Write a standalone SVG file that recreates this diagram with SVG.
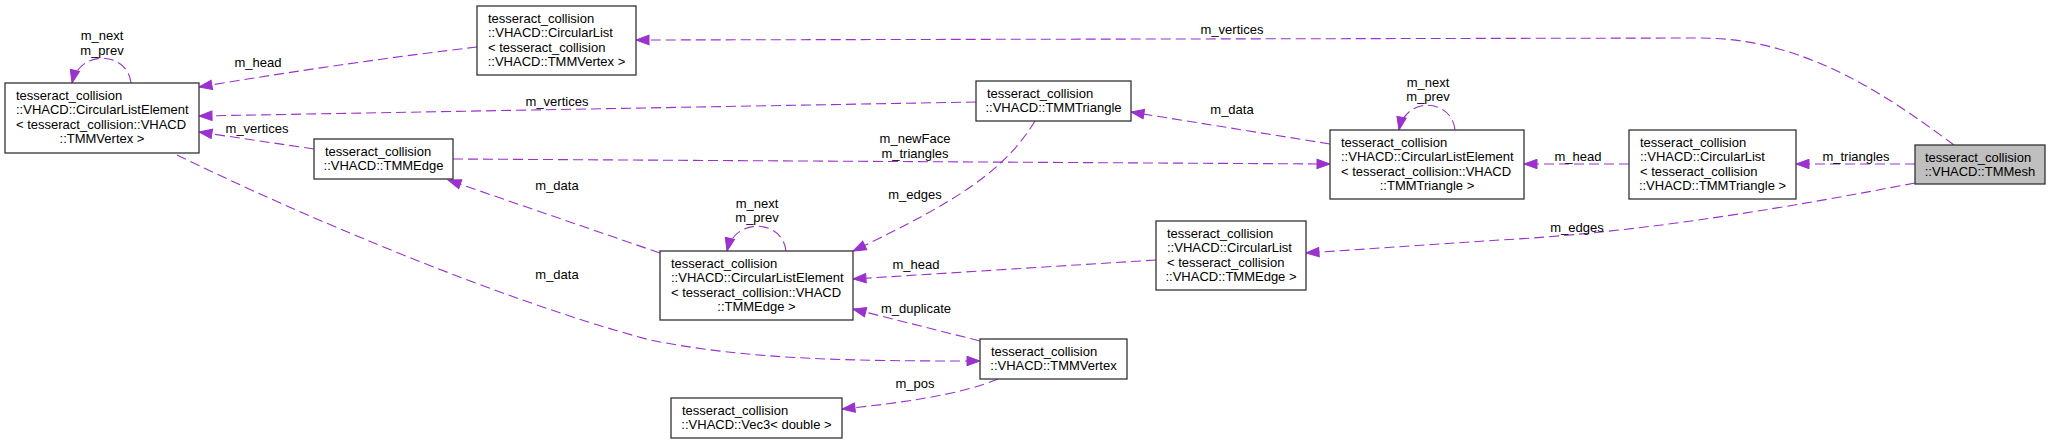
<svg xmlns="http://www.w3.org/2000/svg" width="2051" height="444" viewBox="0 0 2051 444">
<style>
  text { font-family: "Liberation Sans", Arial, sans-serif; font-size: 13px; fill: #000; }
  .c { text-anchor: middle; }
  .box { fill: #fff; stroke: #333; stroke-width: 1.3; }
  .root { fill: #bfbfbf; stroke: #333; stroke-width: 1.3; }
  .e { fill: none; stroke: #9a32cd; stroke-width: 1.1; stroke-dasharray: 10,5; marker-end: url(#ah); }
</style>
<defs>
  <marker id="ah" markerUnits="userSpaceOnUse" markerWidth="14" markerHeight="10" refX="13" refY="5" orient="auto" overflow="visible">
    <path d="M0,0.3 L13,5 L0,9.7 z" fill="#9a32cd" stroke="#9a32cd" stroke-width="1"/>
  </marker>
</defs>
<rect width="2051" height="444" fill="#fff"/>
<g id="edges">
  <path class="e" d="M477,47 C400,56 300,70 199,87"/>
  <path class="e" d="M131,83 C128,52 80,48 72,83"/>
  <path class="e" d="M976,102 L199,116"/>
  <path class="e" d="M314,149 L199,132"/>
  <path class="e" d="M1954,145 C1880,90 1800,38 1700,38 L636,40"/>
  <path class="e" d="M453,159 L1330,164"/>
  <path class="e" d="M1330,144 L1131,112"/>
  <path class="e" d="M1455,130 C1452,99 1406,95 1399,130"/>
  <path class="e" d="M1629,164 L1524,164"/>
  <path class="e" d="M1915,164 L1796,164"/>
  <path class="e" d="M1915,183 C1800,205 1650,232 1500,240 L1306,253"/>
  <path class="e" d="M1035,121 C1005,170 960,200 853,251"/>
  <path class="e" d="M786,251 C783,220 735,216 727,251"/>
  <path class="e" d="M660,253 L448,180"/>
  <path class="e" d="M1156,260 L853,279"/>
  <path class="e" d="M980,341 L853,309"/>
  <path class="e" d="M177,155 C300,215 500,300 650,340 C750,360 850,361 980,361"/>
  <path class="e" d="M998,379 C960,395 900,403 842,409"/>
  <text class="c" x="258" y="67">m_head</text>
  <text class="c" x="102" y="40">m_next</text>
  <text class="c" x="102" y="54.5">m_prev</text>
  <text class="c" x="557" y="106">m_vertices</text>
  <text class="c" x="257" y="133">m_vertices</text>
  <text class="c" x="1232" y="34">m_vertices</text>
  <text class="c" x="915" y="143">m_newFace</text>
  <text class="c" x="915" y="158">m_triangles</text>
  <text class="c" x="1232" y="114">m_data</text>
  <text class="c" x="1428" y="86.5">m_next</text>
  <text class="c" x="1428" y="101">m_prev</text>
  <text class="c" x="1578" y="161">m_head</text>
  <text class="c" x="1856" y="161">m_triangles</text>
  <text class="c" x="1577" y="232">m_edges</text>
  <text class="c" x="915" y="199">m_edges</text>
  <text class="c" x="757" y="207.5">m_next</text>
  <text class="c" x="757" y="222">m_prev</text>
  <text class="c" x="557" y="189.5">m_data</text>
  <text class="c" x="557" y="279">m_data</text>
  <text class="c" x="916" y="269">m_head</text>
  <text class="c" x="916" y="313">m_duplicate</text>
  <text class="c" x="915" y="388">m_pos</text>
</g>
<g id="nodeA">
  <rect class="box" x="5" y="83" width="194" height="70"/>
  <text x="16" y="99.5">tesseract_collision</text>
  <text x="16" y="114">::VHACD::CircularListElement</text>
  <text x="16" y="128.5">&lt; tesseract_collision::VHACD</text>
  <text class="c" x="102" y="143">::TMMVertex &gt;</text>
</g>
<g id="nodeB">
  <rect class="box" x="477" y="6" width="159" height="69"/>
  <text x="488" y="22.5">tesseract_collision</text>
  <text x="488" y="37">::VHACD::CircularList</text>
  <text x="488" y="51.5">&lt; tesseract_collision</text>
  <text class="c" x="556.5" y="66">::VHACD::TMMVertex &gt;</text>
</g>
<g id="nodeC">
  <rect class="box" x="314" y="139" width="139" height="40"/>
  <text x="325" y="155.5">tesseract_collision</text>
  <text class="c" x="383.5" y="170">::VHACD::TMMEdge</text>
</g>
<g id="nodeD">
  <rect class="box" x="976" y="81" width="155" height="40"/>
  <text x="987" y="97.5">tesseract_collision</text>
  <text class="c" x="1053.5" y="112">::VHACD::TMMTriangle</text>
</g>
<g id="nodeE">
  <rect class="box" x="1330" y="130" width="194" height="69"/>
  <text x="1341" y="146.5">tesseract_collision</text>
  <text x="1341" y="161">::VHACD::CircularListElement</text>
  <text x="1341" y="175.5">&lt; tesseract_collision::VHACD</text>
  <text class="c" x="1427" y="190">::TMMTriangle &gt;</text>
</g>
<g id="nodeF">
  <rect class="box" x="1629" y="130" width="167" height="69"/>
  <text x="1640" y="146.5">tesseract_collision</text>
  <text x="1640" y="161">::VHACD::CircularList</text>
  <text x="1640" y="175.5">&lt; tesseract_collision</text>
  <text class="c" x="1712.5" y="190">::VHACD::TMMTriangle &gt;</text>
</g>
<g id="nodeG">
  <rect class="root" x="1915" y="145" width="130" height="39"/>
  <text x="1925" y="161.5">tesseract_collision</text>
  <text class="c" x="1980" y="176">::VHACD::TMMesh</text>
</g>
<g id="nodeH">
  <rect class="box" x="660" y="251" width="193" height="69"/>
  <text x="671" y="267.5">tesseract_collision</text>
  <text x="671" y="282">::VHACD::CircularListElement</text>
  <text x="671" y="296.5">&lt; tesseract_collision::VHACD</text>
  <text class="c" x="756.5" y="311">::TMMEdge &gt;</text>
</g>
<g id="nodeI">
  <rect class="box" x="1156" y="221" width="150" height="69"/>
  <text x="1167" y="237.5">tesseract_collision</text>
  <text x="1167" y="252">::VHACD::CircularList</text>
  <text x="1167" y="266.5">&lt; tesseract_collision</text>
  <text class="c" x="1231" y="281">::VHACD::TMMEdge &gt;</text>
</g>
<g id="nodeJ">
  <rect class="box" x="980" y="339" width="147" height="40"/>
  <text x="991" y="355.5">tesseract_collision</text>
  <text class="c" x="1053.5" y="370">::VHACD::TMMVertex</text>
</g>
<g id="nodeK">
  <rect class="box" x="671" y="398" width="171" height="40"/>
  <text x="682" y="414.5">tesseract_collision</text>
  <text class="c" x="756.5" y="429">::VHACD::Vec3&lt; double &gt;</text>
</g>
</svg>
